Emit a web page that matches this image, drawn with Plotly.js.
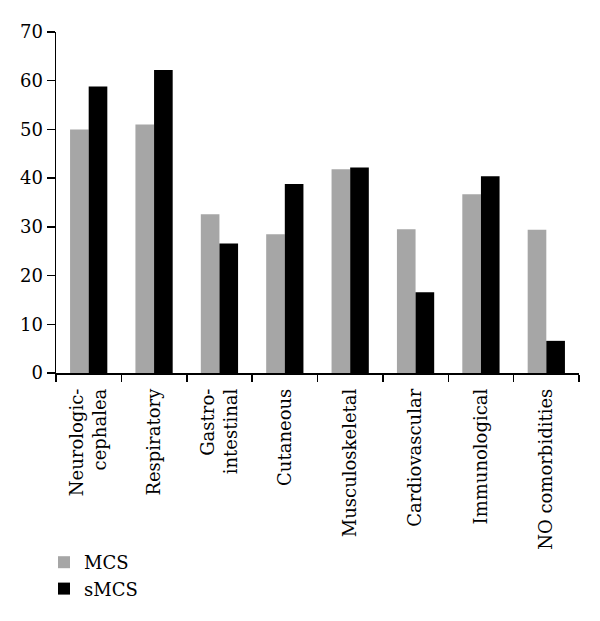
<!DOCTYPE html>
<html>
<head>
<meta charset="utf-8">
<script src="https://cdn.plot.ly/plotly-3.0.1.min.js"></script>
<style>html,body{margin:0;padding:0;background:#fff;}#chart{width:600px;height:621px;}</style>
</head>
<body>
<div id="chart"></div>
<script>
var categories = ["Neurologic-<br>cephalea", "Respiratory", "Gastro-<br>intestinal", "Cutaneous", "Musculoskeletal", "Cardiovascular", "Immunological", "NO comorbidities"];
var mcsValues = [50.0, 51.0, 32.6, 28.5, 41.8, 29.5, 36.7, 29.4];
var smcsValues = [58.8, 62.2, 26.6, 38.8, 42.2, 16.6, 40.4, 6.6];
var yTicks = [0, 10, 20, 30, 40, 50, 60, 70];

var fontFamily = "'DejaVu Serif', 'Liberation Serif', serif";

var data = [
  {type: "bar", name: "MCS", x: categories, y: mcsValues, marker: {color: "#a6a6a6"}, legendgroup: "a"},
  {type: "bar", name: "sMCS", x: categories, y: smcsValues, marker: {color: "#000000"}, legendgroup: "b"}
];

var layout = {
  width: 600, height: 621,
  margin: {l: 56, r: 21, t: 32, b: 248, autoexpand: false},
  paper_bgcolor: "#fff", plot_bgcolor: "#fff",
  font: {family: fontFamily, size: 18, color: "#000"},
  barmode: "group",
  bargap: 0.43,
  bargroupgap: 0,
  showlegend: true,
  legend: {xref: "container", yref: "container", x: 44 / 600, y: 1 - 544 / 621,
           xanchor: "left", yanchor: "top", orientation: "v",
           font: {family: fontFamily, size: 18, color: "#000"}, tracegroupgap: 0,
           bgcolor: "rgba(0,0,0,0)"},
  xaxis: {
    type: "category", tickangle: -90, tickson: "boundaries", automargin: false,
    ticks: "outside", ticklen: 7, tickwidth: 1.5, tickcolor: "#000",
    ticklabelstandoff: 7,
    showline: true, linecolor: "#000", linewidth: 1.5,
    showgrid: false, zeroline: false,
    tickfont: {family: fontFamily, size: 18, color: "#000"}
  },
  yaxis: {
    range: [0, 70], tickvals: yTicks, ticktext: yTicks.map(String), automargin: false,
    ticks: "outside", ticklen: 8, tickwidth: 1.5, tickcolor: "#000",
    showline: true, linecolor: "#000", linewidth: 1.5,
    showgrid: false, zeroline: false,
    tickfont: {family: fontFamily, size: 18, color: "#000"}
  }
};

Plotly.newPlot("chart", data, layout, {displayModeBar: false, staticPlot: true});
</script>
</body>
</html>
